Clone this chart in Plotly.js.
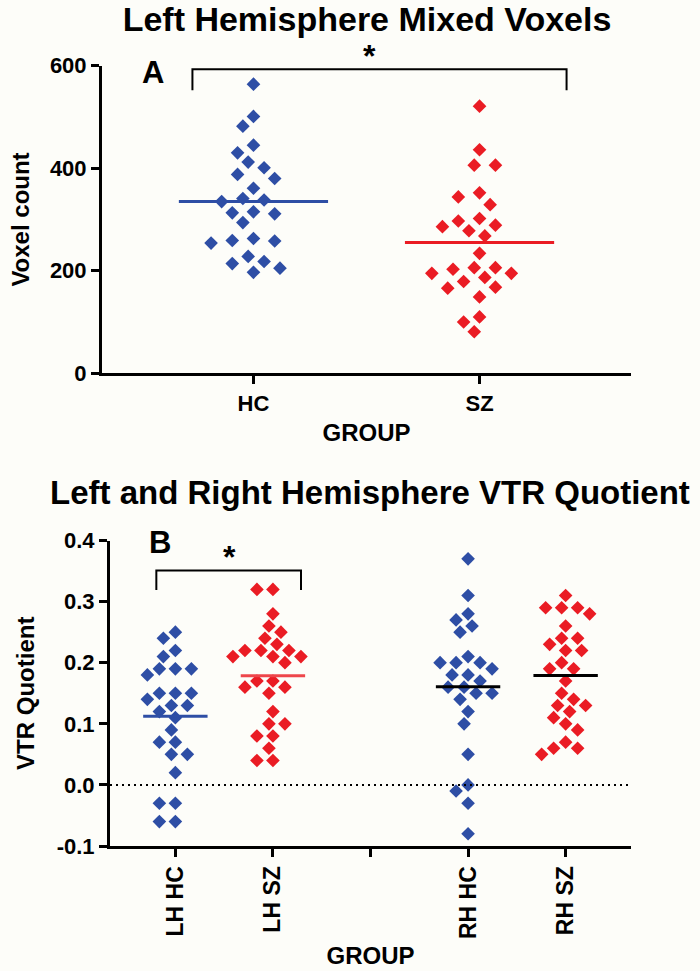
<!DOCTYPE html>
<html><head><meta charset="utf-8">
<script src="https://cdn.plot.ly/plotly-3.0.1.min.js"></script>
<style>html,body{margin:0;padding:0;background:#fdfdf9}</style>
</head><body><div id="chart" style="width:700px;height:971px"></div>
<script>
// ---------------- data ----------------
const groupsA = ['HC', 'SZ'];
const voxelHC = [564,501,482,445,430,412,401,388,380,361,338,335,341,313,315,311,294,263,258,254,259,228,214,197,205,218];
const voxelSZ = [521,436,406,406,344,352,329,302,289,278,286,297,268,234,206,195,179,187,166,195,203,206,168,149,110,100,81];
const yTicksA = [0, 200, 400, 600];

const groupsB = ['LH HC', 'LH SZ', '', 'RH HC', 'RH SZ'];
const vtrLHHC = [0.24,0.25,0.22,0.21,0.19,0.19,0.19,0.18,0.15,0.15,0.15,0.14,0.13,0.13,0.12,0.11,0.09,0.07,0.07,0.05,0.05,0.02,-0.03,-0.03,-0.06,-0.06];
const vtrLHSZ = [0.32,0.32,0.28,0.26,0.25,0.24,0.23,0.22,0.22,0.22,0.21,0.21,0.21,0.20,0.17,0.16,0.16,0.17,0.15,0.12,0.10,0.10,0.08,0.08,0.06,0.04,0.04];
const vtrRHHC = [0.37,0.31,0.28,0.27,0.26,0.25,0.21,0.20,0.20,0.20,0.19,0.18,0.18,0.17,0.16,0.16,0.15,0.15,0.14,0.12,0.10,0.05,0.00,-0.01,-0.03,-0.08];
const vtrRHSZ = [0.31,0.29,0.28,0.29,0.29,0.26,0.24,0.24,0.23,0.22,0.22,0.20,0.19,0.19,0.17,0.15,0.14,0.13,0.13,0.12,0.11,0.10,0.09,0.07,0.06,0.06,0.05];
const yTicksB = [-0.1, 0, 0.1, 0.2, 0.3, 0.4];
const yTickTextB = ['-0.1', '0.0', '0.1', '0.2', '0.3', '0.4'];

// ---------------- geometry / style ----------------
const W = 700, H = 971;
const boxA = {x0: 102, x1: 631, y0: 65.7, y1: 373.3};
const boxB = {x0: 110, x1: 631, y0: 540.5, y1: 846};
const xRangeA = [-0.67, 1.67], yRangeA = [0, 600];
const xRangeB = [-0.67, 4.67], yRangeB = [-0.1, 0.4];
const BLUE = 'rgb(46,78,165)', RED = 'rgb(234,28,36)', RED2 = 'rgb(238,70,75)';
const FONT = 'Liberation Sans, Arial, Helvetica, sans-serif';

function swarm(values, cat, box, xr, yr, a, b, step) {
  const pxX = (box.x1 - box.x0) / (xr[1] - xr[0]);
  const pxY = (box.y1 - box.y0) / (yr[1] - yr[0]);
  const order = values.map((v, i) => i).sort((i, j) => values[j] - values[i]);
  const placed = [];
  const xs = new Array(values.length);
  order.forEach(i => {
    const py = values[i] * pxY;
    for (let k = 0; k < 400; k++) {
      const m = k === 0 ? 0 : (k % 2 === 1 ? -Math.ceil(k / 2) : Math.ceil(k / 2));
      const px = m * step;
      const ok = placed.every(p => Math.abs(p.x - px) / a + Math.abs(p.y - py) / b >= 1);
      if (ok) { placed.push({x: px, y: py}); xs[i] = cat + px / pxX; break; }
    }
  });
  return xs;
}
const mean = arr => arr.reduce((s, v) => s + v, 0) / arr.length;

function pts(values, cat, color, panel) {
  const isA = panel === 'A';
  const xs = isA ? swarm(values, cat, boxA, xRangeA, yRangeA, 21, 18, 5.3)
                 : swarm(values, cat, boxB, xRangeB, yRangeB, 16, 16, 4);
  return {type: 'scatter', mode: 'markers', x: xs, y: values,
    xaxis: isA ? 'x' : 'x2', yaxis: isA ? 'y' : 'y2', hoverinfo: 'y',
    marker: {symbol: 'diamond', size: 10.5, color: color, line: {width: 0}}, showlegend: false};
}
function meanLine(values, cat, color, panel) {
  const m = mean(values);
  return {type: 'scatter', mode: 'lines', x: [cat - 0.33, cat + 0.33], y: [m, m],
    xaxis: panel === 'A' ? 'x' : 'x2', yaxis: panel === 'A' ? 'y' : 'y2',
    line: {color: color, width: 3}, hoverinfo: 'skip', showlegend: false};
}

const traces = [
  pts(voxelHC, 0, BLUE, 'A'), pts(voxelSZ, 1, RED, 'A'),
  meanLine(voxelHC, 0, BLUE, 'A'), meanLine(voxelSZ, 1, RED, 'A'),
  pts(vtrLHHC, 0, BLUE, 'B'), pts(vtrLHSZ, 1, RED, 'B'),
  pts(vtrRHHC, 3, BLUE, 'B'), pts(vtrRHSZ, 4, RED, 'B'),
  meanLine(vtrLHHC, 0, BLUE, 'B'), meanLine(vtrLHSZ, 1, RED2, 'B'),
  meanLine(vtrRHHC, 3, 'black', 'B'), meanLine(vtrRHSZ, 4, 'black', 'B')
];

const px2x = px => px / W, px2y = py => 1 - py / H;
const tickFont = {family: FONT, size: 22, color: 'black', weight: 'bold'};
const axBase = {showline: true, linewidth: 3, linecolor: 'black', ticks: 'outside', ticklen: 8,
  tickwidth: 3, tickcolor: 'black', showgrid: false, zeroline: false, fixedrange: true,
  tickfont: tickFont, automargin: false};
const titleFont = {family: FONT, size: 24, weight: 'bold', color: 'black'};

const layout = {
  width: W, height: H, margin: {l: 0, r: 0, t: 0, b: 0},
  paper_bgcolor: '#fdfdf9', plot_bgcolor: 'rgba(0,0,0,0)', showlegend: false,
  font: {family: FONT, color: 'black'},
  title: {text: 'Left Hemisphere Mixed Voxels', x: px2x(367), xanchor: 'center', xref: 'paper',
    y: px2y(19), yanchor: 'middle', yref: 'paper', font: {family: FONT, size: 34, weight: 'bold', color: 'black'}},
  xaxis: Object.assign({}, axBase, {domain: [px2x(boxA.x0), px2x(boxA.x1)], anchor: 'y', range: xRangeA,
    tickvals: [0, 1], ticktext: groupsA,
    title: {text: 'GROUP', font: titleFont, standoff: 10}}),
  yaxis: Object.assign({}, axBase, {domain: [px2y(boxA.y1), px2y(boxA.y0)], anchor: 'x', range: yRangeA,
    tickvals: yTicksA, ticktext: yTicksA.map(String),
    title: {text: 'Voxel count', font: titleFont, standoff: 14}}),
  xaxis2: Object.assign({}, axBase, {domain: [px2x(boxB.x0), px2x(boxB.x1)], anchor: 'y2', range: xRangeB,
    tickvals: [0, 1, 2, 3, 4], ticktext: groupsB, tickangle: -90,
    tickfont: Object.assign({}, tickFont, {size: 23}),
    title: {text: 'GROUP', font: titleFont, standoff: 10}}),
  yaxis2: Object.assign({}, axBase, {domain: [px2y(boxB.y1), px2y(boxB.y0)], anchor: 'x2', range: yRangeB,
    tickvals: yTicksB, ticktext: yTickTextB,
    title: {text: 'VTR Quotient', font: titleFont, standoff: 16}}),
  shapes: [
    {type: 'path', xref: 'x', yref: 'y', path: 'M -0.27,552 L -0.27,593 L 1.385,593 L 1.385,552',
      line: {color: 'black', width: 2}},
    {type: 'path', xref: 'x2', yref: 'y2', path: 'M -0.195,0.319 L -0.195,0.351 L 1.288,0.351 L 1.288,0.319',
      line: {color: 'black', width: 2}},
    {type: 'line', xref: 'x2', yref: 'y2', x0: xRangeB[0], x1: xRangeB[1], y0: 0, y1: 0,
      line: {color: 'black', width: 2, dash: '2px,4px'}}
  ],
  annotations: [
    {text: 'Left and Right Hemisphere VTR Quotient', xref: 'paper', yref: 'paper', x: px2x(370), y: px2y(492),
      xanchor: 'center', yanchor: 'middle', showarrow: false, font: {family: FONT, size: 33, weight: 'bold', color: 'black'}},
    {text: 'A', xref: 'paper', yref: 'paper', x: px2x(153), y: px2y(73), xanchor: 'center', yanchor: 'middle',
      showarrow: false, font: {family: FONT, size: 31, weight: 'bold', color: 'black'}},
    {text: 'B', xref: 'paper', yref: 'paper', x: px2x(160), y: px2y(542), xanchor: 'center', yanchor: 'middle',
      showarrow: false, font: {family: FONT, size: 31, weight: 'bold', color: 'black'}},
    {text: '*', xref: 'paper', yref: 'paper', x: px2x(369), y: px2y(56), xanchor: 'center', yanchor: 'middle',
      showarrow: false, font: {family: FONT, size: 32, weight: 'bold', color: 'black'}},
    {text: '*', xref: 'paper', yref: 'paper', x: px2x(229), y: px2y(557), xanchor: 'center', yanchor: 'middle',
      showarrow: false, font: {family: FONT, size: 32, weight: 'bold', color: 'black'}}
  ]
};

Plotly.newPlot('chart', traces, layout, {displayModeBar: false, staticPlot: true});
</script></body></html>
